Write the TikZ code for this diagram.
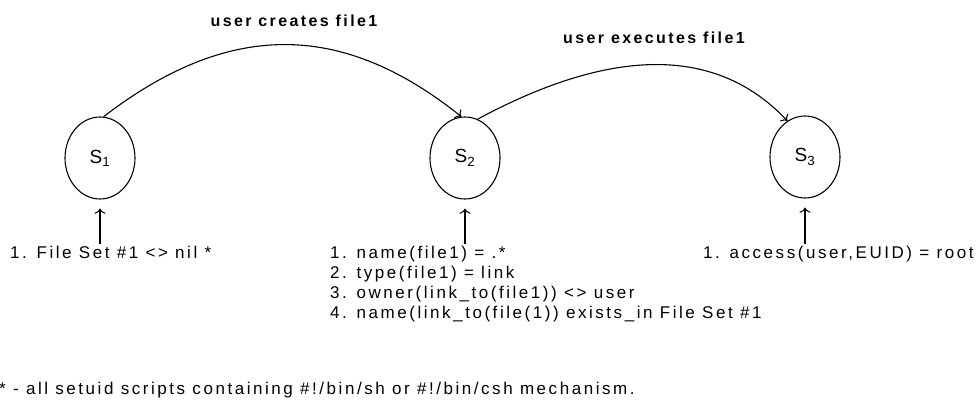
\documentclass[tikz,border=0pt]{standalone}
\usepackage{fontspec}
\setmainfont{Liberation Sans}[LetterSpace=15]
\usetikzlibrary{arrows.meta,shapes.geometric}

\begin{document}
\begin{tikzpicture}[
  x=1pt, y=-1pt,
  font=\fontsize{17}{20}\selectfont,
  >={To[scale=1.3]},
  state/.style={
    draw,
    ellipse,
    line width=1.1pt,
    minimum width=70pt,
    minimum height=82pt,
    inner sep=0pt,
    font=\fontsize{19}{20}\selectfont
  },
  cond/.style={
    anchor=north west,
    align=left,
    inner sep=0pt
  },
  event/.style={
    font=\bfseries\fontsize{16}{18}\selectfont,
    inner sep=0pt
  },
  trans/.style={->,line width=1.1pt},
  need/.style={->,line width=1.1pt,shorten >=9pt,shorten <=2pt}
]
  \useasboundingbox (0,0) rectangle (980,418);

  % States of the attack, left to right.
  \node[state] (s1) at (100,158) {S\textsubscript{1}};
  \node[state] (s2) at (465,158) {S\textsubscript{2}};
  \node[state] (s3) at (805,157) {S\textsubscript{3}};

  % User actions move from one state to the next.
  \node[event] (create) at (294,21) {user creates file1};
  \node[event] (exec) at (654,38) {user executes file1};

  \draw[trans] (s1.85) .. controls +(130,-100) and +(-115,-92) .. (s2.95);
  \draw[trans] (s2.72) .. controls +(115,-62) and +(-80,-85) .. (s3.116);

  % Conditions that must hold in each state.
  \node[cond] (c1) at (10,246) {1. File Set \#1 <> nil *};
  \node[cond] (c2) at (330,246) {%
    1. name(file1) = .*\\
    2. type(file1) = link\\
    3. owner(link\_to(file1)) <> user\\
    4. name(link\_to(file(1)) exists\_in File Set \#1};
  \node[cond] (c3) at (703,246) {1. access(user,EUID) = root};

  \draw[need] (s1.south |- c1.north) -- (s1.south);
  \draw[need] (s2.south |- c2.north) -- (s2.south);
  \draw[need] (s3.south |- c3.north) -- (s3.south);

  \node[anchor=west,inner sep=0pt] (note) at (-1,390)
    {* - all setuid scripts containing \#!/bin/sh or \#!/bin/csh mechanism.};
\end{tikzpicture}
\end{document}
